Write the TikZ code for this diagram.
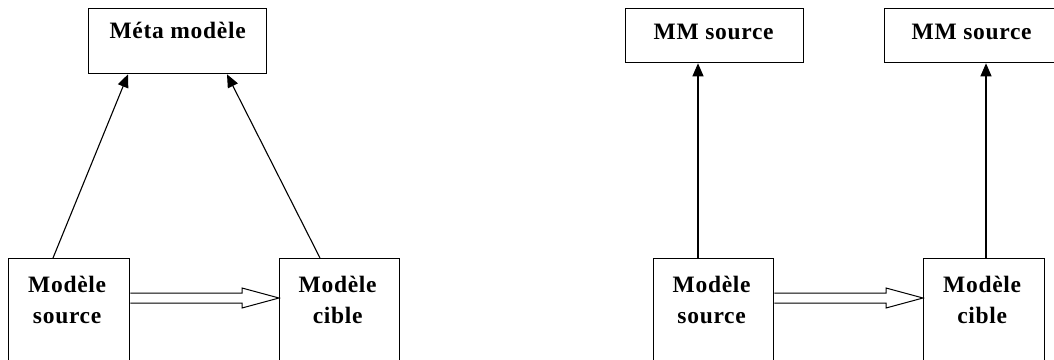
\documentclass[tikz,border=0pt]{standalone}
\usepackage{fontspec}
\setmainfont{Liberation Serif}
\newfontfamily\boxfont[LetterSpace=3]{Liberation Serif}
\usetikzlibrary{arrows.meta,calc}
\begin{document}
\begin{tikzpicture}[x=1pt,y=-1pt,
  box/.style={draw,line width=1.3pt,rectangle,anchor=north west,inner sep=0pt},
  lbl/.style={anchor=base,inner sep=0pt,xshift=-2pt,
    font=\boxfont\fontsize{23.5}{28}\selectfont\bfseries},
  inst/.style={line width=1.1pt,-{Triangle[length=13pt,width=11pt]}},
  xform/.style={line width=1pt,fill=white,line join=miter}]
\useasboundingbox (0,0) rectangle (1054,359);
\clip (0,0) rectangle (1054,359);

% ---- left: shared metamodel ----
\node[box,minimum width=178pt,minimum height=65pt] (meta) at (88,8) {};
\node[box,minimum width=121pt,minimum height=140pt] (ms) at (8,258) {};
\node[box,minimum width=120pt,minimum height=140pt] (mc) at (279,258) {};

\node[lbl] (metaT) at ($(meta.north)+(2,30.5)$) {Méta modèle};
\node[lbl] (msT1) at ($(ms.north)+(0,34)$) {Modèle};
\node[lbl] (msT2) at ($(ms.north)+(0,65)$) {source};
\node[lbl] (mcT1) at ($(mc.north)+(0,34)$) {Modèle};
\node[lbl] (mcT2) at ($(mc.north)+(0,65)$) {cible};

\draw[inst] ($(ms.north west)+(45,0)$) -- ($(meta.south west)+(40,0)$);
\draw[inst] ($(mc.north west)+(41,0)$) -- ($(meta.south west)+(139,0)$);

% hollow transformation arrow
\coordinate (s1) at ($(ms.north east)+(0,40)$);
\coordinate (t1) at ($(mc.north west)+(0,40)$);
\draw[xform] ($(s1)+(0,-5)$) -- ($(t1)+(-37,-5)$) -- ($(t1)+(-37,-10)$) -- (t1)
  -- ($(t1)+(-37,10)$) -- ($(t1)+(-37,5)$) -- ($(s1)+(0,5)$);

% ---- right: one metamodel per model ----
\node[box,minimum width=178pt,minimum height=54pt] (mm1) at (625,8) {};
\node[box,minimum width=178pt,minimum height=54pt] (mm2) at (884,8) {};
\node[box,minimum width=120pt,minimum height=140pt] (ms2) at (653,258) {};
\node[box,minimum width=121pt,minimum height=140pt] (mc2) at (923,258) {};

\node[lbl] (mm1T) at ($(mm1.north)+(1,31.5)$) {MM source};
\node[lbl] (mm2T) at ($(mm2.north)+(0,31.5)$) {MM source};
\node[lbl] (ms2T1) at ($(ms2.north)+(0,34)$) {Modèle};
\node[lbl] (ms2T2) at ($(ms2.north)+(0,65)$) {source};
\node[lbl] (mc2T1) at ($(mc2.north)+(0,34)$) {Modèle};
\node[lbl] (mc2T2) at ($(mc2.north)+(0,65)$) {cible};

\draw[inst] ($(ms2.north west)+(45,0)$) -- ($(mm1.south west)+(73,0)$);
\draw[inst] ($(mc2.north west)+(63,0)$) -- ($(mm2.south west)+(102,0)$);

\coordinate (s2) at ($(ms2.north east)+(0,40)$);
\coordinate (t2) at ($(mc2.north west)+(0,40)$);
\draw[xform] ($(s2)+(0,-5)$) -- ($(t2)+(-37,-5)$) -- ($(t2)+(-37,-10)$) -- (t2)
  -- ($(t2)+(-37,10)$) -- ($(t2)+(-37,5)$) -- ($(s2)+(0,5)$);
\end{tikzpicture}
\end{document}
